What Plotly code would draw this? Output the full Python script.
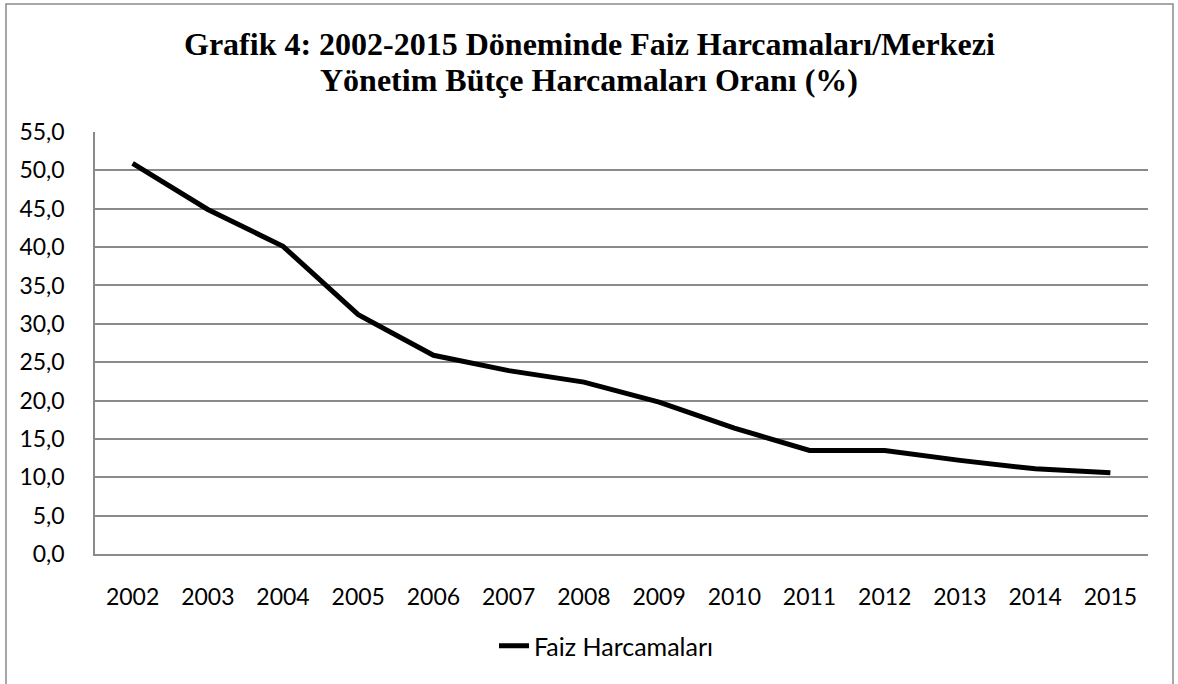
import plotly.graph_objects as go

years = ["2002", "2003", "2004", "2005", "2006", "2007", "2008",
         "2009", "2010", "2011", "2012", "2013", "2014", "2015"]
faiz = [50.9, 44.9, 40.1, 31.2, 25.9, 23.9, 22.4,
        19.8, 16.4, 13.5, 13.5, 12.2, 11.1, 10.6]
y_ticks = [0, 5, 10, 15, 20, 25, 30, 35, 40, 45, 50, 55]
title_lines = ["Grafik 4: 2002-2015 Döneminde Faiz Harcamaları/Merkezi",
               "Yönetim Bütçe Harcamaları Oranı (%)"]
series_name = "Faiz Harcamaları"

W, H = 1178, 684
L, R, T, B = 95, 30, 132, 130
pw, ph = W - L - R, H - T - B

def px_x(x):
    return (x - L) / pw

def px_y(y):
    return (H - B - y) / ph

fig = go.Figure()
fig.add_trace(go.Scatter(
    x=years, y=faiz, mode="lines", name=series_name,
    line=dict(color="black", width=5),
))

grid = "#8a8a8a"
fig.update_layout(
    width=W, height=H,
    margin=dict(l=L, r=R, t=T, b=B),
    paper_bgcolor="white", plot_bgcolor="white",
    separators=",.",
    font=dict(family="Lato", size=23, color="black"),
    showlegend=True,
    legend=dict(x=px_x(494), xanchor="left", y=px_y(646), yanchor="middle",
                orientation="h", font=dict(family="Lato", size=25),
                bgcolor="rgba(0,0,0,0)"),
    xaxis=dict(type="category", range=[-0.5, len(years) - 0.5],
               showgrid=False, showline=True,
               linecolor=grid, linewidth=1.5, ticks="",
               ticklabelstandoff=22, tickfont=dict(size=23)),
    yaxis=dict(range=[0, 55], tickvals=y_ticks, tickformat=".1f",
               showgrid=True, gridcolor=grid, gridwidth=1.5,
               showline=True, linecolor=grid, linewidth=1.5,
               zeroline=False, ticks="", ticklabelstandoff=24,
               tickfont=dict(size=23)),
)

for i, (txt, yp) in enumerate(zip(title_lines, [44, 80])):
    fig.add_annotation(
        text="<b>%s</b>" % txt, xref="paper", yref="paper",
        x=px_x(W / 2), y=px_y(yp), xanchor="center", yanchor="middle",
        showarrow=False,
        font=dict(family="Liberation Serif", size=32, color="black"),
    )

fig.add_shape(type="rect", xref="paper", yref="paper",
              x0=px_x(6), x1=px_x(1173), y0=px_y(692), y1=px_y(4),
              line=dict(color="#8a8a8a", width=1.5), layer="below")

fig.write_html("out.html")
